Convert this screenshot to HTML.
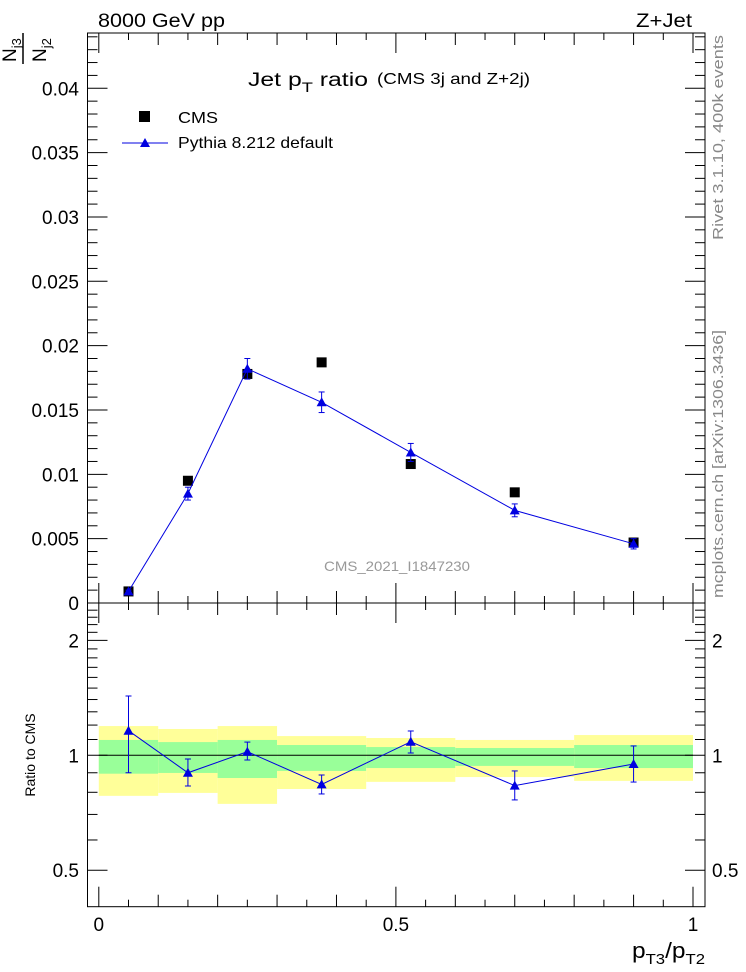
<!DOCTYPE html>
<html><head><meta charset="utf-8"><style>
html,body{margin:0;padding:0;background:#fff}
svg{display:block;font-family:"Liberation Sans",Arial,sans-serif}
</style></head><body>
<svg id="chart" width="746" height="972" viewBox="0 0 746 972" xmlns="http://www.w3.org/2000/svg">
<g id="bands"></g>
<g id="axes"></g>
<g id="marks"></g>
<text x="98" y="27" font-size="19" textLength="127" lengthAdjust="spacingAndGlyphs">8000 GeV pp</text>
<text x="636" y="27" font-size="19" textLength="56" lengthAdjust="spacingAndGlyphs">Z+Jet</text>
<text x="248" y="86" font-size="19"><tspan textLength="120" lengthAdjust="spacingAndGlyphs">Jet p<tspan font-size="14" dy="6">T</tspan><tspan dy="-6"> ratio</tspan></tspan></text>
<text x="377" y="84" font-size="16" textLength="153" lengthAdjust="spacingAndGlyphs">(CMS 3j and Z+2j)</text>
<rect x="139" y="111" width="11" height="11" fill="#000"/>
<text x="178" y="123" font-size="16" textLength="40" lengthAdjust="spacingAndGlyphs">CMS</text>
<line x1="122" y1="143" x2="168" y2="143" stroke="#0000e0" stroke-width="1"/>
<polygon points="145,138 150,147 140,147" fill="#0000e0"/>
<text x="178" y="148" font-size="16" textLength="155" lengthAdjust="spacingAndGlyphs">Pythia 8.212 default</text>
<text x="324" y="571" font-size="14" fill="#999" textLength="146" lengthAdjust="spacingAndGlyphs">CMS_2021_I1847230</text>
<text transform="translate(723,240) rotate(-90)" font-size="15" fill="#888" textLength="205" lengthAdjust="spacingAndGlyphs">Rivet 3.1.10,  400k events</text>
<text transform="translate(723,598) rotate(-90)" font-size="15" fill="#888" textLength="268" lengthAdjust="spacingAndGlyphs">mcplots.cern.ch [arXiv:1306.3436]</text>
<g>
<text transform="translate(16,62) rotate(-90)" font-size="19">N<tspan font-size="13" dy="5">j3</tspan></text>
<line x1="23" y1="64" x2="23" y2="33" stroke="#000" stroke-width="1.5"/>
<text transform="translate(46,62) rotate(-90)" font-size="19">N<tspan font-size="13" dy="5">j2</tspan></text>
</g>
<text transform="translate(35,755) rotate(-90)" font-size="14" text-anchor="middle">Ratio to CMS</text>
<text x="632" y="958" font-size="22" textLength="73" lengthAdjust="spacingAndGlyphs">p<tspan font-size="15" dy="6">T3</tspan><tspan dy="-6">/p</tspan><tspan font-size="15" dy="6">T2</tspan></text>
</svg>
<script>
const binEdges=[0,0.1,0.2,0.3,0.45,0.6,0.8,1.0];
const xCenters=[0.05,0.15,0.25,0.375,0.525,0.7,0.9];
const cmsValues=[0.0009,0.0095,0.0178,0.0187,0.0108,0.0086,0.0047];
const pythiaValues=[0.0009,0.0085,0.0182,0.0156,0.0117,0.0072,0.0046];
const pythiaErrors=[0.0001,0.0005,0.0008,0.0008,0.0007,0.0005,0.0004];
const ratioValues=[1.16,0.90,1.022,0.839,1.085,0.833,0.949];
const ratioErrLow=[0.90,0.831,0.972,0.792,1.014,0.764,0.851];
const ratioErrHigh=[1.43,0.978,1.083,0.888,1.158,0.910,1.058];
const yellowLow=[0.783,0.797,0.746,0.816,0.852,0.877,0.857];
const yellowHigh=[1.193,1.172,1.193,1.123,1.110,1.097,1.130];
const greenLow=[0.895,0.899,0.872,0.910,0.926,0.938,0.926];
const greenHigh=[1.097,1.083,1.097,1.064,1.051,1.045,1.064];
const mainTicks=[0,0.005,0.01,0.015,0.02,0.025,0.03,0.035,0.04];
const mainTickLabels=["0","0.005","0.01","0.015","0.02","0.025","0.03","0.035","0.04"];
const ratioMajor=[0.5,1,2];
const ratioMajorLabels=["0.5","1","2"];
const xMajor=[0,0.5,1];
const xMajorLabels=["0","0.5","1"];

const L=87.5,R=705,T=33,MID=603,B=906.7;
const X0=98.8,X1=693;
function sx(v){return X0+(X1-X0)*v;}
function sy(v){return MID-12868*v;}
function ry(r){return 755.3-114.9*Math.log2(r);}
const NS="http://www.w3.org/2000/svg";
function mk(parent,tag,attrs){const e=document.createElementNS(NS,tag);for(const k in attrs)e.setAttribute(k,attrs[k]);parent.appendChild(e);return e;}
const bands=document.getElementById('bands'),axes=document.getElementById('axes'),marks=document.getElementById('marks');

for(let i=0;i<binEdges.length-1;i++){
  const x=sx(binEdges[i]),w=sx(binEdges[i+1])-x;
  const y1=mk(bands,'rect',{x:x,y:ry(yellowHigh[i]),width:w,height:ry(yellowLow[i])-ry(yellowHigh[i]),fill:'#ffff99'});
  
  
  const g1=mk(bands,'rect',{x:x,y:ry(greenHigh[i]),width:w,height:ry(greenLow[i])-ry(greenHigh[i]),fill:'#99ff99'});
  
  
}
const one=mk(bands,'line',{x1:sx(binEdges[0]),x2:sx(binEdges[binEdges.length-1]),y1:ry(1),y2:ry(1),stroke:'#000','stroke-width':1});



const f1=mk(axes,'rect',{x:L,y:T,width:R-L,height:MID-T,fill:'none',stroke:'#000','stroke-width':1});


const f2=mk(axes,'rect',{x:L,y:MID,width:R-L,height:B-MID,fill:'none',stroke:'#000','stroke-width':1});



function tick(x1,y1,x2,y2){mk(axes,'line',{x1:x1,y1:y1,x2:x2,y2:y2,stroke:'#000','stroke-width':1});}
for(let k=0;k<=44;k++){const v=k*0.001,y=sy(v);if(y<T)break;const len=(k%5===0)?20:10;tick(L,y,L+len,y);tick(R,y,R-len,y);}
mainTicks.forEach((v,i)=>{const t=mk(axes,'text',{x:79,y:sy(v)+7,'font-size':19,'text-anchor':'end'});t.textContent=mainTickLabels[i];

});
for(let k=0;k<=20;k++){const v=k*0.05,x=sx(v);const len=(k%10===0)?20:(k%2===0?12:7);
tick(x,MID,x,MID-len);tick(x,T,x,T+len);tick(x,MID,x,MID+len);tick(x,B,x,B-len);}
xMajor.forEach((v,i)=>{const t=mk(axes,'text',{x:sx(v),y:931,'font-size':19,'text-anchor':'middle'});t.textContent=xMajorLabels[i];

});
for(let k=5;k<=24;k++){const r=k/10,y=ry(r);const len=(k===5||k===10||k===20)?20:10;tick(L,y,L+len,y);tick(R,y,R-len,y);}
ratioMajor.forEach((v,i)=>{const a=mk(axes,'text',{x:79,y:ry(v)+7,'font-size':19,'text-anchor':'end'});a.textContent=ratioMajorLabels[i];


const b=mk(axes,'text',{x:712,y:ry(v)+7,'font-size':19});b.textContent=ratioMajorLabels[i];

});

const BLUE='#0000e0';
function tri(x,y,name){const p=mk(marks,'polygon',{points:`${x},${y-5} ${x+5},${y+4} ${x-5},${y+4}`,fill:BLUE});

}
function errbar(x,y1,y2){mk(marks,'line',{x1:x,x2:x,y1:y1,y2:y2,stroke:BLUE,'stroke-width':1});
mk(marks,'line',{x1:x-3,x2:x+3,y1:y1,y2:y1,stroke:BLUE,'stroke-width':1});mk(marks,'line',{x1:x-3,x2:x+3,y1:y2,y2:y2,stroke:BLUE,'stroke-width':1});}

cmsValues.forEach((v,i)=>{const r=mk(marks,'rect',{x:sx(xCenters[i])-5,y:sy(v)-5,width:10,height:10,fill:'#000'});

});
const pl=mk(marks,'polyline',{points:pythiaValues.map((v,i)=>sx(xCenters[i])+','+sy(v)).join(' '),fill:'none',stroke:BLUE,'stroke-width':1});


pythiaValues.forEach((v,i)=>{const x=sx(xCenters[i]);errbar(x,sy(v+pythiaErrors[i]),sy(v-pythiaErrors[i]));tri(x,sy(v),'pythia-point');});
const rl=mk(marks,'polyline',{points:ratioValues.map((v,i)=>sx(xCenters[i])+','+ry(v)).join(' '),fill:'none',stroke:BLUE,'stroke-width':1});


ratioValues.forEach((v,i)=>{const x=sx(xCenters[i]);errbar(x,ry(ratioErrHigh[i]),ry(ratioErrLow[i]));tri(x,ry(v),'ratio-point');});
</script>
</body></html>
